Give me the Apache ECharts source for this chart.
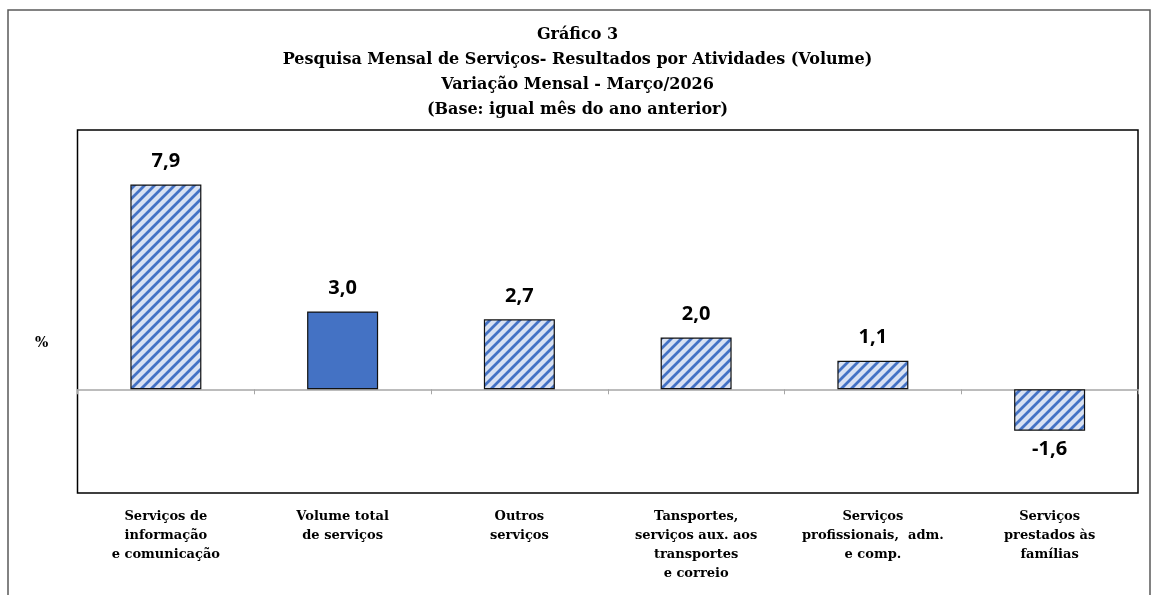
<!DOCTYPE html>
<html>
<head>
<meta charset="utf-8">
<script src="https://cdn.jsdelivr.net/npm/echarts@6/dist/echarts.min.js"></script>
<style>
  html, body { margin: 0; padding: 0; background: #fff; }
  #main { width: 1155px; height: 595px; }
</style>
</head>
<body>
<div id="main"></div>
<script>
// dados do gráfico
var categorias = [
  "Serviços de\ninformação\ne comunicação",
  "Volume total\nde serviços",
  "Outros\nserviços",
  "Tansportes,\nserviços aux. aos\ntransportes\ne correio",
  "Serviços\nprofissionais,  adm.\ne comp.",
  "Serviços\nprestados às\nfamílias"
];
var valores = [7.9, 3.0, 2.7, 2.0, 1.1, -1.6];
var destaque = [false, true, false, false, false, false]; // barra cheia = total

var tituloLinhas = [
  "Gráfico 3",
  "Pesquisa Mensal de Serviços- Resultados por Atividades (Volume)",
  "Variação Mensal - Março/2026",
  "(Base: igual mês do ano anterior)"
];

// hachurado azul (listras diagonais)
function hachura() {
  var c = document.createElement("canvas");
  var s = 10;
  c.width = s; c.height = s;
  var ctx = c.getContext("2d");
  ctx.fillStyle = "#d9e2f3";
  ctx.fillRect(0, 0, s, s);
  ctx.strokeStyle = "#4472c4";
  ctx.lineWidth = 2.8;
  ctx.beginPath();
  ctx.moveTo(-2, s + 2); ctx.lineTo(s + 2, -2);
  ctx.moveTo(-2, 2); ctx.lineTo(2, -2);
  ctx.moveTo(s - 2, s + 2); ctx.lineTo(s + 2, s - 2);
  ctx.stroke();
  return c;
}
var padrao = { image: hachura(), repeat: "repeat" };

var dados = valores.map(function (v, i) {
  return {
    value: v,
    itemStyle: { color: destaque[i] ? "#4472c4" : padrao },
    label: v < 0 ? { position: "bottom", distance: 9 } : { position: "top" }
  };
});

var chart = echarts.init(document.getElementById("main"));

var option = {
  animation: false,
  title: {
    text: tituloLinhas.join("\n"),
    left: "center",
    top: 17,
    textStyle: {
      fontFamily: "DejaVu Serif",
      fontWeight: "bold",
      fontSize: 16,
      lineHeight: 25,
      color: "#000"
    }
  },
  grid: {
    left: 77.5,
    right: 17,
    top: 130,
    bottom: 102,
    show: true,
    borderColor: "#000",
    borderWidth: 1.5,
    containLabel: false
  },
  xAxis: [
    {
      type: "category",
      data: categorias,
      axisLine: { onZero: true, lineStyle: { color: "#a6a6a6", width: 1.5 } },
      axisTick: { show: true, length: 5, lineStyle: { color: "#a6a6a6" } },
      axisLabel: { show: false },
      splitLine: { show: false }
    },
    {
      type: "category",
      position: "bottom",
      data: categorias,
      axisLine: { show: false },
      axisTick: { show: false },
      axisLabel: {
        margin: 14,
        fontFamily: "DejaVu Serif",
        fontWeight: "bold",
        fontSize: 13,
        lineHeight: 19,
        color: "#000",
        interval: 0
      }
    }
  ],
  yAxis: {
    type: "value",
    min: -4,
    max: 10,
    interval: 2,
    axisLine: { show: false },
    axisTick: { show: false },
    axisLabel: { show: false },
    splitLine: { show: false }
  },
  series: [
    {
      type: "bar",
      xAxisIndex: 0,
      data: dados,
      barWidth: 71,
      itemStyle: { borderColor: "#111", borderWidth: 1.2 },
      label: {
        show: true,
        distance: 13,
        fontFamily: "Open Sans",
        fontWeight: "bold",
        fontSize: 20,
        color: "#000",
        formatter: function (p) {
          return p.value.toFixed(1).replace(".", ",");
        }
      }
    }
  ],
  graphic: [
    {
      type: "rect",
      shape: { x: 8, y: 10, width: 1142, height: 600 },
      style: { fill: "none", stroke: "#595959", lineWidth: 1.5 },
      silent: true
    },
    {
      type: "text",
      left: 35,
      top: 336,
      style: {
        text: "%",
        fontFamily: "DejaVu Serif",
        fontWeight: "bold",
        fontSize: 14,
        fill: "#000"
      }
    }
  ]
};

chart.setOption(option);
</script>
</body>
</html>
